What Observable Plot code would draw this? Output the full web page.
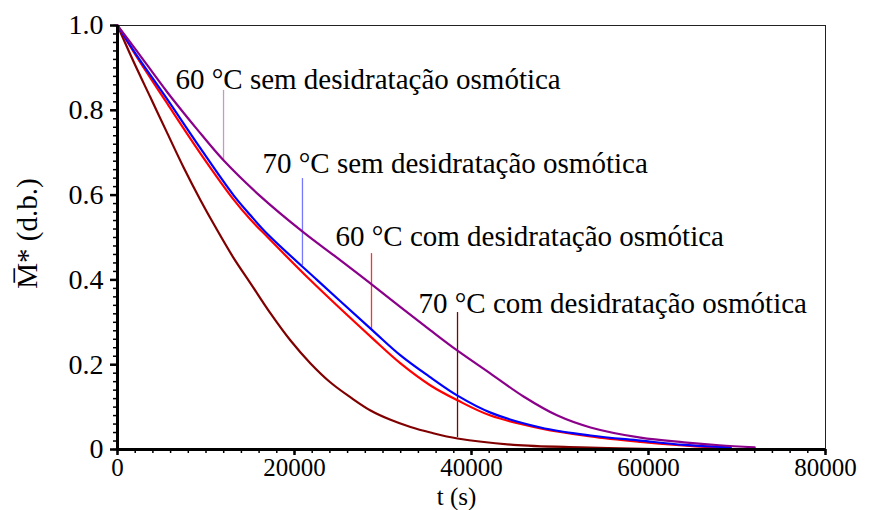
<!DOCTYPE html>
<html>
<head>
<meta charset="utf-8">
<script src="https://cdn.jsdelivr.net/npm/d3@7"></script>
<script src="https://cdn.jsdelivr.net/npm/@observablehq/plot@0.6"></script>
<style>
  html, body { margin: 0; padding: 0; background: #fff; }
</style>
</head>
<body>
<div id="chart"></div>
<script>
// ---- Data ----
const xTicks = [0, 20000, 40000, 60000, 80000];
const yTicks = [0, 0.2, 0.4, 0.6, 0.8, 1.0];
const xMinorTicks = d3.range(0, 80001, 2000);
const yMinorTicks = d3.range(0, 50).map(i => i * 0.02).concat([1.0]);

const seriesNames = [
  "70 °C com desidratação osmótica",
  "60 °C com desidratação osmótica",
  "70 °C sem desidratação osmótica",
  "60 °C sem desidratação osmótica"
];

// 60 °C sem desidratação osmótica (purple)
const t60sem = [0, 2000, 5650, 9000, 11980, 16160, 21020, 24500, 28250, 31980, 35370, 38420, 42150, 45880, 49720, 53450, 59100, 64000, 68000, 72000];
const m60sem = [1.0, 0.945, 0.842, 0.755, 0.682, 0.597, 0.512, 0.457, 0.397, 0.336, 0.281, 0.233, 0.179, 0.125, 0.080, 0.052, 0.028, 0.017, 0.010, 0.005];

// 70 °C sem desidratação osmótica (blue)
const t70sem = [0, 2000, 5650, 9380, 13100, 15000, 17000, 22600, 28815, 31980, 35370, 38420, 42150, 47800, 53450, 59100, 64000, 69300];
const m70sem = [1.0, 0.935, 0.825, 0.710, 0.600, 0.553, 0.507, 0.399, 0.281, 0.222, 0.170, 0.127, 0.087, 0.052, 0.033, 0.021, 0.011, 0.005];

// 60 °C com desidratação osmótica (red)
const t60com = [0, 2000, 5650, 9380, 13100, 15000, 17000, 21810, 28815, 31980, 35370, 38420, 42150, 47800, 53450, 59100, 63500, 67800];
const m60com = [1.0, 0.932, 0.815, 0.698, 0.590, 0.543, 0.500, 0.399, 0.262, 0.203, 0.151, 0.116, 0.080, 0.050, 0.031, 0.018, 0.010, 0.004];

// 70 °C com desidratação osmótica (dark red)
const t70com = [0, 1810, 3730, 5650, 7500, 9380, 11000, 13110, 15030, 17290, 19550, 21810, 24070, 26330, 28590, 30850, 33110, 35370, 38420, 44750, 52320, 58000, 64750];
const m70com = [1.0, 0.915, 0.830, 0.745, 0.664, 0.588, 0.527, 0.452, 0.392, 0.321, 0.257, 0.203, 0.158, 0.123, 0.092, 0.070, 0.053, 0.040, 0.026, 0.011, 0.005, 0.002, 0.0];

// Annotation labels (text start point, in data units) and leader lines
const labelTexts = [
  "60 °C sem desidratação osmótica",
  "70 °C sem desidratação osmótica",
  "60 °C com desidratação osmótica",
  "70 °C com desidratação osmótica"
];
const labelT = [6550, 16385, 24630, 34010];
const labelM = [0.851, 0.653, 0.481, 0.323];
const leaderT = [11980, 20900, 28700, 38420];
const leaderTop = [0.847, 0.639, 0.462, 0.323];
const leaderBottom = [0.682, 0.434, 0.281, 0.028];

// ---- Styles ----
const lineColors = {
  "60 °C sem desidratação osmótica": "#8b008b",
  "70 °C sem desidratação osmótica": "#0000ff",
  "60 °C com desidratação osmótica": "#ff0000",
  "70 °C com desidratação osmótica": "#800000"
};
const leaderColors = ["#c896cc", "#7878ff", "#ff3030", "#800000"];

// ---- Build tables ----
const seriesData = {
  "60 °C sem desidratação osmótica": [t60sem, m60sem],
  "70 °C sem desidratação osmótica": [t70sem, m70sem],
  "60 °C com desidratação osmótica": [t60com, m60com],
  "70 °C com desidratação osmótica": [t70com, m70com]
};
const rows = seriesNames.flatMap(name => {
  const [ts, ms] = seriesData[name];
  return ts.map((t, i) => ({series: name, t, m: ms[i]}));
});
const labels = labelTexts.map((text, i) => ({text, t: labelT[i], m: labelM[i]}));
const leaders = labelTexts.map((text, i) => ({t: leaderT[i], y1: leaderTop[i], y2: leaderBottom[i], color: leaderColors[i]}));

const font = "Liberation Serif, DejaVu Serif, serif";

const chart = Plot.plot({
  width: 874,
  height: 510,
  marginLeft: 117,
  marginRight: 49,
  marginTop: 25,
  marginBottom: 61,
  style: {fontFamily: font, fontSize: "28px", background: "#fff", color: "#000"},
  x: {domain: [0, 80000]},
  y: {domain: [0, 1]},
  color: {domain: seriesNames, range: seriesNames.map(n => lineColors[n])},
  marks: [
    Plot.frame({stroke: "#222", strokeWidth: 1}),
    Plot.axisX({ticks: xMinorTicks, tickSize: 4, tickFormat: () => "", strokeWidth: 1.5, label: null}),
    Plot.axisY({ticks: yMinorTicks, tickSize: 4, tickFormat: () => "", strokeWidth: 1.5, label: null}),
    Plot.axisX({ticks: xTicks, tickSize: 6, tickPadding: 3, strokeWidth: 2.5, tickFormat: d => String(d), label: null, fontSize: 25, fontFamily: font}),
    Plot.axisY({ticks: yTicks, tickSize: 7, tickPadding: 7, strokeWidth: 2.5, tickFormat: d => d === 0 ? "0" : d.toFixed(1), label: null, fontSize: 28, fontFamily: font}),
    Plot.ruleX(leaders, {x: "t", y1: "y1", y2: "y2", stroke: "color", strokeWidth: 1.3}),
    Plot.line(rows, {x: "t", y: "m", z: "series", stroke: "series", strokeWidth: 2.2, curve: "catmull-rom"}),
    Plot.ruleX([0], {stroke: "#000", strokeWidth: 3}),
    Plot.ruleY([0], {stroke: "#000", strokeWidth: 3}),
    Plot.text(labels, {x: "t", y: "m", text: "text", textAnchor: "start", lineAnchor: "bottom", fontSize: 29, fontFamily: font, fill: "#000"}),
    Plot.text(["t (s)"], {frameAnchor: "bottom", dx: -15, dy: 55, lineAnchor: "bottom", textAnchor: "middle", fontSize: 25, fontFamily: font, fill: "#000"}),
    Plot.text(["M\u0305* (d.b.)"], {frameAnchor: "left", dx: -81, dy: -4, rotate: -90, lineAnchor: "bottom", textAnchor: "middle", fontSize: 29, fontFamily: font, fill: "#000"})
  ]
});
document.getElementById("chart").appendChild(chart);
</script>
</body>
</html>
